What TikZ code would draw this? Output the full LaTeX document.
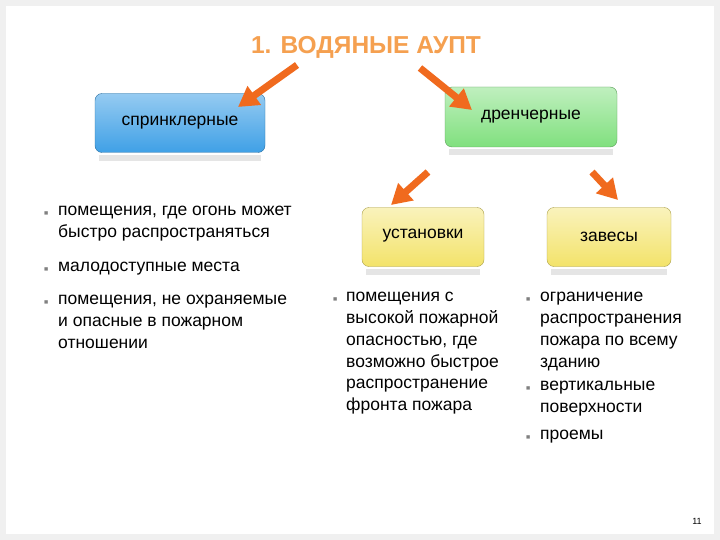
\documentclass[tikz,border=0pt]{standalone}
\usepackage{fontspec}
\setmainfont{Liberation Sans}
\usetikzlibrary{arrows.meta}
\definecolor{bl}{HTML}{3FA0E6}
\definecolor{gr}{HTML}{80E07E}
\definecolor{ye}{HTML}{F3E36A}
\definecolor{orr}{HTML}{F06A1E}
\definecolor{ttl}{HTML}{F5A050}
\begin{document}
\begin{tikzpicture}[x=1pt,y=-1pt,
  arr/.style={-{Triangle[width=22pt,length=20pt]},line width=7pt,draw=orr},
  txt/.style={anchor=north west,align=left,font=\fontsize{17.5}{21.8}\selectfont,inner sep=0pt},
  bfont/.style={font=\fontsize{17.5}{20}\selectfont},
  bul/.style={anchor=north west,inner sep=0pt,font=\fontsize{7}{8}\selectfont,text=gray}]
\useasboundingbox (0,0) rectangle (720,540);
\fill[white] (0,0) rectangle (720,540);
\draw[black!6,line width=6pt] (3,3) rectangle (717,537);
\node[font=\bfseries\fontsize{24.5}{26}\selectfont,text=ttl,draw=orr!60!black,line width=0pt,draw=none] (t) at (366,47) {1. ВОДЯНЫЕ АУПТ};
\node[draw=bl!70!black,rounded corners=7pt,top color=bl!55!white,bottom color=bl,minimum width=170pt,minimum height=59pt,bfont] (s) at (180,123) {спринклерные};
\node[draw=gr!70!black,rounded corners=7pt,top color=gr!50!white,bottom color=gr,minimum width=172pt,minimum height=60pt,bfont] (d) at (531,117) {\raisebox{4pt}{дренчерные}};
\node[draw=ye!70!black,rounded corners=7pt,top color=ye!45!white,bottom color=ye,minimum width=122pt,minimum height=59pt,bfont] (u) at (423,237) {\raisebox{6pt}{установки}};
\node[draw=ye!70!black,rounded corners=7pt,top color=ye!45!white,bottom color=ye,minimum width=124pt,minimum height=59pt,bfont] (z) at (609,237) {\raisebox{0pt}{завесы}};
\foreach \n in {s,d,u,z}{\fill[black!10] ([xshift=4pt,yshift=-2pt]\n.south west) rectangle ([xshift=-4pt,yshift=-8pt]\n.south east);}
\coordinate (a1) at (297,65); \coordinate (b1) at (238,107);
\coordinate (a2) at (420,68); \coordinate (b2) at (472,110);
\coordinate (a3) at (428,172); \coordinate (b3) at (391,205);
\coordinate (a4) at (592,172); \coordinate (b4) at (618,200);
\foreach \i in {1,2,3,4}{\draw[arr] (a\i) -- (b\i);}
\node[bul] (p1) at (44,212) {■};
\node[txt] (l1) at (58,206) {помещения, где огонь может\\быстро распространяться};
\node[bul] (p2) at (44,268) {■};
\node[txt] (l2) at (58,262) {малодоступные места};
\node[bul] (p3) at (44,301) {■};
\node[txt] (l3) at (58,295) {помещения, не охраняемые\\и опасные в пожарном\\отношении};
\node[bul] (p4) at (333,298) {■};
\node[txt] (m1) at (346,292) {помещения с\\высокой пожарной\\опасностью, где\\возможно быстрое\\распространение\\фронта пожара};
\node[bul] (p5) at (526,298) {■};
\node[txt] (r1) at (540,292) {ограничение\\распространения\\пожара по всему\\зданию};
\node[bul] (p6) at (526,387) {■};
\node[txt] (r2) at (540,381) {вертикальные\\поверхности};
\node[bul] (p7) at (526,436) {■};
\node[txt] (r3) at (540,430) {проемы};
\node[font=\fontsize{9}{10}\selectfont] (pn) at (697,521) {11};
\end{tikzpicture}
\end{document}
